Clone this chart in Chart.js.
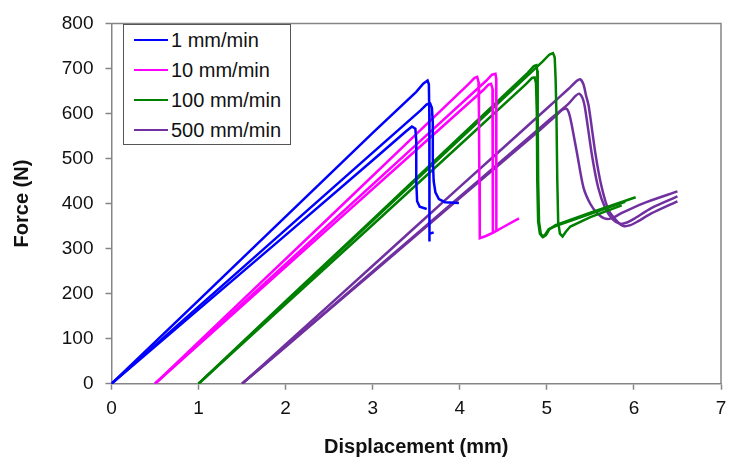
<!DOCTYPE html>
<html>
<head>
<meta charset="utf-8">
<script src="https://cdn.jsdelivr.net/npm/chart.js@4.4.1/dist/chart.umd.min.js"></script>
<style>
    html, body { margin: 0; padding: 0; background: #fff; }
    #wrap { position: relative; width: 736px; height: 464px; }
    #leyenda {
        position: absolute; left: 123px; top: 24px; width: 168px; height: 121px;
        border: 1px solid #555; background: #fff; box-sizing: border-box;
        font-family: 'Liberation Sans', Arial, sans-serif; font-size: 20px; color: #111;
    }
    .fila { position: absolute; left: 10px; height: 24px; display: flex; align-items: center; }
    .muestra { width: 34px; height: 2.5px; margin-right: 3px; }
</style>
</head>
<body>
<div id="wrap">
    <canvas id="grafico" width="736" height="464"></canvas>
    <div id="leyenda"></div>
</div>
<script>
// velocidades de ensayo
const velocidades = ['1 mm/min', '10 mm/min', '100 mm/min', '500 mm/min'];
const colores = ['#0000FF', '#FF00FF', '#008000', '#7030A0'];
const suavizado = [0, 0, 0, 0.25];

// escalas
const ticksX = [0, 1, 2, 3, 4, 5, 6, 7];
const ticksY = [0, 100, 200, 300, 400, 500, 600, 700, 800];

// curvas [desplazamiento mm, fuerza N]
const azul1 = [[0,0],[1,185],[2,371],[3,557],[3.50,648],[3.58,666],[3.63,673],[3.645,665],[3.65,600],[3.65,450],[3.65,340],[3.652,316],[3.655,333],[3.70,336]];
const azul2 = [[0,0],[1,171],[2,342],[3,513],[3.55,607],[3.62,620],[3.66,622],[3.68,612],[3.69,580],[3.69,500],[3.70,450],[3.72,425],[3.76,410],[3.83,403],[3.99,401]];
const azul3 = [[0,0],[1,165],[2,330],[3,496],[3.38,560],[3.45,571],[3.49,566],[3.50,540],[3.50,450],[3.51,405],[3.54,393],[3.62,388]];

const magenta1 = [[0.5,0],[1.5,185],[2.5,369],[3.5,554],[4.10,665],[4.17,679],[4.20,681],[4.215,670],[4.22,600],[4.225,450],[4.23,323],[4.30,328],[4.39,336],[4.50,348],[4.68,367]];
const magenta2 = [[0.5,0],[1.5,177],[2.5,354],[3.5,531],[4.30,672],[4.37,686],[4.41,688],[4.418,678],[4.42,600],[4.42,450],[4.42,338]];
const magenta3 = [[0.5,0],[1.5,173],[2.5,346],[3.5,519],[4.27,652],[4.33,664],[4.36,666],[4.375,655],[4.38,600],[4.38,450],[4.38,334]];

const verde1 = [[1,0],[2,181],[3,362],[4,543],[4.95,715],[5.03,731],[5.07,734],[5.09,725],[5.10,680],[5.11,600],[5.12,450],[5.13,360],[5.15,333],[5.18,327],[5.22,338],[5.27,349],[5.5,370],[5.86,396]];
const verde2 = [[1,0],[2,183],[3,365],[4,548],[4.78,690],[4.85,705],[4.88,707],[4.89,695],[4.895,600],[4.90,450],[4.91,360],[4.93,333],[4.96,326],[4.99,330],[5.03,343],[5.1,352],[5.5,380],[6.02,414]];
const verde3 = [[1,0],[2,177],[3,353],[4,530],[4.76,665],[4.83,679],[4.86,680],[4.875,668],[4.885,600],[4.89,450],[4.90,360],[4.92,333],[4.95,326],[4.98,331],[5.02,343],[5.1,350],[5.5,377],[5.9,404]];

const morado1 = [[1.5,0],[2,87],[3,262],[4,437],[5,611],[5.25,655],[5.33,670],[5.38,676],[5.42,665],[5.45,640],[5.48,617],[5.56,508],[5.63,436],[5.71,385],[5.81,360],[5.88,350],[5.96,352],[6.05,361],[6.2,378],[6.5,405]];
const morado2 = [[1.5,0],[2,83],[3,249],[4,415],[5,581],[5.25,622],[5.33,639],[5.37,644],[5.41,634],[5.44,610],[5.52,505],[5.59,435],[5.67,390],[5.76,364],[5.84,355],[5.92,358],[6.0,366],[6.2,390],[6.5,416]];
const morado3 = [[1.5,0],[2,82],[3,247],[4,412],[4.9,560],[5.10,594],[5.17,607],[5.22,611],[5.25,603],[5.28,580],[5.35,508],[5.42,436],[5.50,399],[5.58,378],[5.66,367],[5.74,367],[5.85,378],[6.1,400],[6.5,427]];

const grupos = [
    [azul1, azul2, azul3],
    [magenta1, magenta2, magenta3],
    [verde1, verde2, verde3],
    [morado1, morado2, morado3]
];

const fuente = "'Liberation Sans', Arial, sans-serif";
const gris = '#858585';

const datasets = [];
grupos.forEach((curvas, i) => {
    curvas.forEach(c => {
        datasets.push({
            label: velocidades[i],
            data: c.map(p => ({ x: p[0], y: p[1] })),
            borderColor: colores[i],
            backgroundColor: colores[i],
            borderWidth: 2.5,
            pointRadius: 0,
            showLine: true,
            tension: suavizado[i]
        });
    });
});

// marco superior y derecho
const marco = {
    id: 'marco',
    afterDraw(chart) {
        const { ctx, chartArea: a } = chart;
        ctx.save();
        ctx.strokeStyle = gris;
        ctx.lineWidth = 1.5;
        ctx.beginPath();
        ctx.moveTo(a.left, a.top);
        ctx.lineTo(a.right, a.top);
        ctx.lineTo(a.right, a.bottom);
        ctx.stroke();
        ctx.restore();
    }
};

new Chart(document.getElementById('grafico'), {
    type: 'scatter',
    data: { datasets },
    plugins: [marco],
    options: {
        responsive: false,
        animation: false,
        devicePixelRatio: 1,
        layout: { padding: { top: 16, right: 15, left: 0, bottom: 0 } },
        plugins: { legend: { display: false }, tooltip: { enabled: false } },
        scales: {
            x: {
                type: 'linear', min: 0, max: 7,
                afterBuildTicks: s => { s.ticks = ticksX.map(v => ({ value: v })); },
                afterFit: s => { s.height = 80.3; },
                grid: { drawOnChartArea: false, tickLength: 6, tickColor: gris, tickWidth: 1.5 },
                border: { color: gris, width: 1.5 },
                ticks: { color: '#111', font: { family: fuente, size: 19 }, padding: 8 },
                title: { display: true, text: 'Displacement (mm)', color: '#111', font: { family: fuente, size: 20, weight: 'bold' }, padding: { bottom: 5 } }
            },
            y: {
                type: 'linear', min: 0, max: 800,
                afterBuildTicks: s => { s.ticks = ticksY.map(v => ({ value: v })); },
                afterFit: s => { s.width = 111.5; },
                grid: { drawOnChartArea: false, tickLength: 6, tickColor: gris, tickWidth: 1.5 },
                border: { color: gris, width: 1.5 },
                ticks: { color: '#111', font: { family: fuente, size: 19 }, padding: 12 },
                title: { display: true, text: 'Force (N)', color: '#111', font: { family: fuente, size: 20, weight: 'bold' }, padding: { top: 10 } }
            }
        }
    }
});

// leyenda
const leyenda = document.getElementById('leyenda');
velocidades.forEach((v, i) => {
    const fila = document.createElement('div');
    fila.className = 'fila';
    fila.style.top = (3 + i * 30) + 'px';
    fila.innerHTML = `<span class="muestra" style="background:${colores[i]}"></span><span>${v}</span>`;
    leyenda.appendChild(fila);
});
</script>
</body>
</html>
